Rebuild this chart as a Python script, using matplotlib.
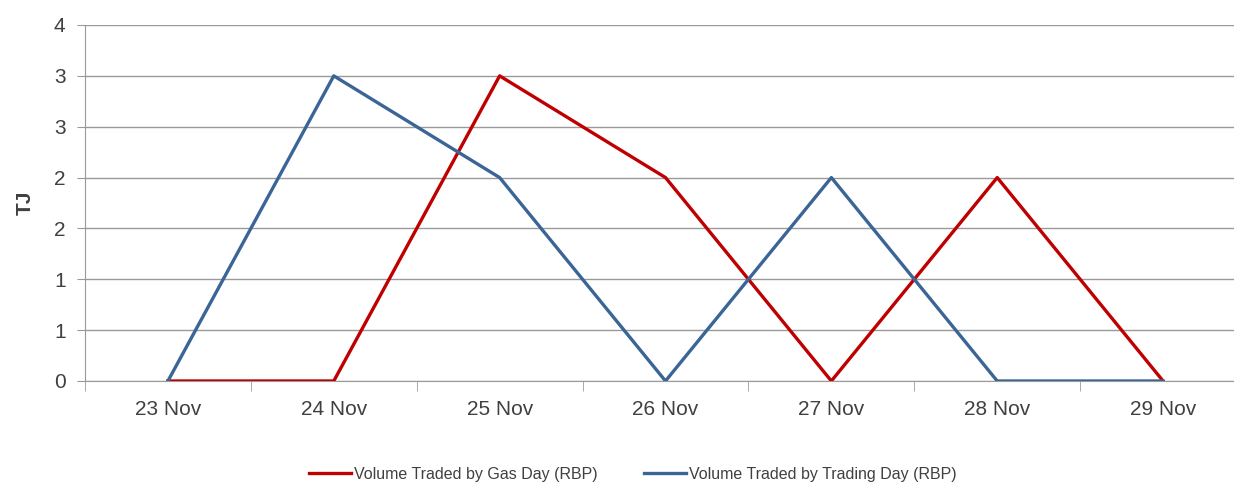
import matplotlib
matplotlib.use("Agg")
import matplotlib.pyplot as plt
import numpy as np
from matplotlib.ticker import FuncFormatter, MultipleLocator, FixedLocator

plt.rcParams["font.family"] = ["Liberation Sans", "DejaVu Sans"]

days = ["23 Nov", "24 Nov", "25 Nov", "26 Nov", "27 Nov", "28 Nov", "29 Nov"]
gas_day = [0, 0, 3, 2, 0, 2, 0]
trading_day = [0, 3, 2, 0, 2, 0, 0]

fig = plt.figure(figsize=(12.34, 4.83), dpi=100)
ax = fig.add_axes([85 / 1234, 102 / 483, 1161 / 1234, 356 / 483])

x = np.arange(len(days))
ax.plot(x, gas_day, color="#C00000", lw=2.4, label="Volume Traded by Gas Day (RBP)", zorder=3)
ax.plot(x, trading_day, color="#3A6596", lw=2.4, label="Volume Traded by Trading Day (RBP)", zorder=3)

ax.set_xlim(-0.5, len(days) - 0.5)
ax.set_ylim(0, 3.5)
ax.yaxis.set_major_locator(MultipleLocator(0.5))
ax.yaxis.set_major_formatter(FuncFormatter(lambda v, p: "%d" % int(np.floor(v + 0.5))))
ax.set_xticks(x)
ax.set_xticklabels(days)
ax.xaxis.set_minor_locator(FixedLocator(np.arange(-0.5, len(days), 1.0)))

ax.grid(axis="y", color="#9A9A9A", lw=1.0)
ax.set_axisbelow(True)
for s in ["top", "right"]:
    ax.spines[s].set_visible(False)
ax.spines["left"].set_color("#9A9A9A")
ax.spines["bottom"].set_color("#9A9A9A")
ax.tick_params(axis="y", length=6, color="#9A9A9A", labelsize=15, labelcolor="#404040", pad=8)
ax.tick_params(axis="x", which="major", length=0, labelsize=15, labelcolor="#404040", pad=14)
ax.tick_params(axis="x", which="minor", length=7, color="#9A9A9A")

ax.set_ylabel("TJ", fontsize=15, fontweight="bold", color="#404040", labelpad=14)

fig.legend(loc="center", bbox_to_anchor=(633 / 1234, 1 - 474 / 483), ncol=2, frameon=False,
           fontsize=11.5, handlelength=2.6, handletextpad=0.2, columnspacing=2.9,
           labelcolor="#404040")

fig.savefig("out.png", dpi=100)
